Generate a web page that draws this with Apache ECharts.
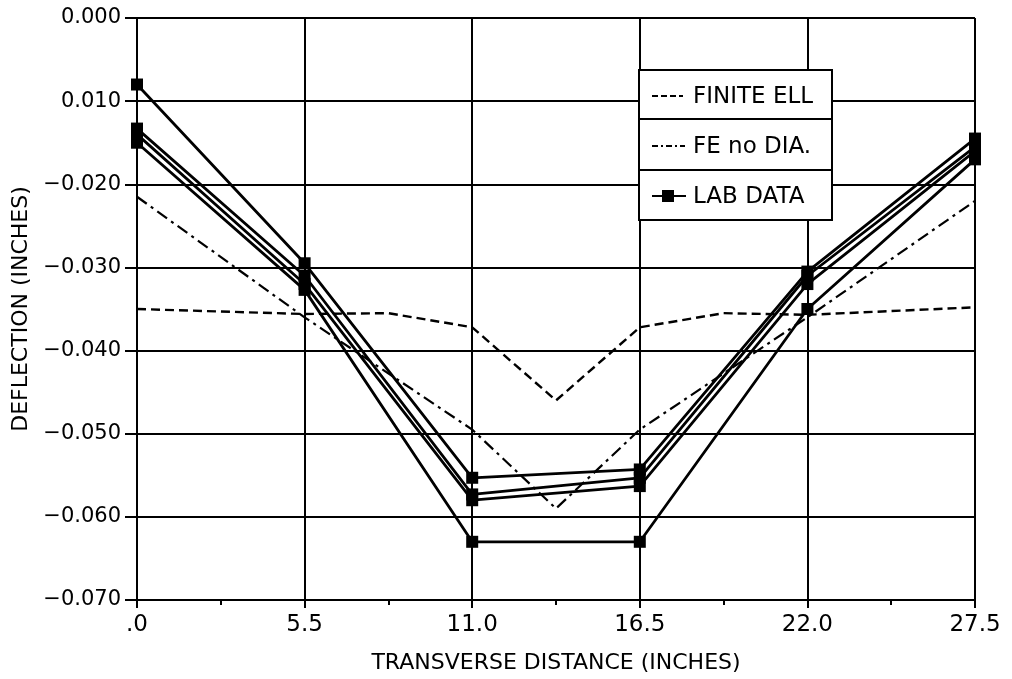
<!DOCTYPE html>
<html>
<head>
<meta charset="utf-8">
<script src="https://cdn.jsdelivr.net/npm/echarts@6/dist/echarts.min.js"></script>
<style>
html,body{margin:0;padding:0;background:#fff;}
#c{width:1012px;height:679px;}
</style>
</head>
<body>
<div id="c"></div>
<script>
// ---- data ----
var labX = [0, 5.5, 11, 16.5, 22, 27.5];
var lab1 = [-0.008, -0.0295, -0.0553, -0.0543, -0.0305, -0.0145];
var lab2 = [-0.0133, -0.031, -0.0573, -0.0553, -0.031, -0.0155];
var lab3 = [-0.014, -0.032, -0.058, -0.0563, -0.032, -0.016];
var lab4 = [-0.015, -0.0327, -0.063, -0.063, -0.035, -0.017];

var finiteX = [0, 5.5, 8.25, 11, 13.75, 16.5, 19.25, 22, 27.5];
var finiteY = [-0.035, -0.0356, -0.0355, -0.0372, -0.046, -0.0372, -0.0355, -0.0357, -0.0348];

var feX = [0, 5.5, 11, 13.75, 16.5, 22, 27.5];
var feY = [-0.0215, -0.036, -0.0495, -0.059, -0.0495, -0.036, -0.022];

var xTickLabels = ['.0', '5.5', '11.0', '16.5', '22.0', '27.5'];
var xTickValues = [0, 5.5, 11, 16.5, 22, 27.5];
var seriesNames = ['FINITE ELL', 'FE no DIA.', 'LAB DATA'];

function pairs(xs, ys) { return xs.map(function (x, i) { return [x, ys[i]]; }); }

var FONT = 'DejaVu Sans';
var chart = echarts.init(document.getElementById('c'), null, {renderer: 'canvas'});

function labSeries(ys) {
  return {
    name: seriesNames[2], type: 'line', data: pairs(labX, ys),
    symbol: 'rect', symbolSize: 12, showSymbol: true,
    lineStyle: {color: '#000', width: 2.8},
    itemStyle: {color: '#000'},
    z: 3, animation: false
  };
}

function legText(t, y) {
  return {type: 'text', z: 10, x: 693, y: y,
    style: {text: t, fill: '#000', fontFamily: FONT, fontSize: 23,
            align: 'left', verticalAlign: 'middle', textAlign: 'left', textVerticalAlign: 'middle'}};
}

chart.setOption({
  animation: false,
  backgroundColor: '#fff',
  grid: {left: 137, right: 37, top: 18, bottom: 78, containLabel: false},
  xAxis: {
    type: 'value', min: 0, max: 27.5, interval: 5.5,
    name: 'TRANSVERSE DISTANCE (INCHES)', nameLocation: 'middle', nameGap: 52,
    nameTextStyle: {fontFamily: FONT, fontSize: 22, color: '#000'},
    axisLine: {show: true, onZero: false, lineStyle: {color: '#000', width: 2}},
    axisTick: {show: true, length: 8, lineStyle: {color: '#000', width: 2}},
    minorTick: {show: true, splitNumber: 2, length: 5, lineStyle: {color: '#000', width: 2}},
    splitLine: {show: true, lineStyle: {color: '#000', width: 2}},
    axisLabel: {
      fontFamily: FONT, fontSize: 23, color: '#000', margin: 14,
      formatter: function (v) {
        var i = xTickValues.indexOf(Math.round(v * 100) / 100);
        return i >= 0 ? xTickLabels[i] : '';
      }
    }
  },
  yAxis: {
    type: 'value', min: -0.07, max: 0, interval: 0.01,
    name: 'DEFLECTION (INCHES)', nameLocation: 'middle', nameGap: 103, nameRotate: 90,
    nameTextStyle: {fontFamily: FONT, fontSize: 22, color: '#000'},
    axisLine: {show: true, onZero: false, lineStyle: {color: '#000', width: 2}},
    axisTick: {show: true, length: 12, lineStyle: {color: '#000', width: 2}},
    splitLine: {show: true, lineStyle: {color: '#000', width: 2}},
    axisLabel: {
      fontFamily: FONT, fontSize: 21, color: '#000', margin: 16,
      formatter: function (v) {
        var r = Math.round(v * 1000) / 1000;
        if (r === 0) return '0.000';
        if (r === -0.01) return '0.010';
        return '\u2212' + Math.abs(r).toFixed(3);
      }
    }
  },
  legend: {show: false},
  graphic: [
    {type: 'rect', z: 8, shape: {x: 639, y: 70, width: 193, height: 150},
     style: {fill: '#fff', stroke: '#000', lineWidth: 2}},
    {type: 'line', z: 9, shape: {x1: 639, y1: 119, x2: 832, y2: 119},
     style: {stroke: '#000', lineWidth: 2}},
    {type: 'line', z: 9, shape: {x1: 639, y1: 170, x2: 832, y2: 170},
     style: {stroke: '#000', lineWidth: 2}},
    {type: 'line', z: 10, shape: {x1: 652, y1: 96, x2: 683, y2: 96},
     style: {stroke: '#000', lineWidth: 2, lineDash: [6, 3]}},
    {type: 'line', z: 10, shape: {x1: 652, y1: 146, x2: 685, y2: 146},
     style: {stroke: '#000', lineWidth: 2, lineDash: [6, 3, 2, 3]}},
    {type: 'line', z: 10, shape: {x1: 652, y1: 196, x2: 686, y2: 196},
     style: {stroke: '#000', lineWidth: 2}},
    {type: 'rect', z: 10, shape: {x: 662, y: 190, width: 12, height: 12},
     style: {fill: '#000'}},
    legText(seriesNames[0], 97),
    legText(seriesNames[1], 147),
    legText(seriesNames[2], 197)
  ],
  series: [
    {
      name: seriesNames[0], type: 'line', data: pairs(finiteX, finiteY),
      symbol: 'none', showSymbol: false,
      lineStyle: {color: '#000', width: 2.4, type: [9, 5]},
      itemStyle: {color: '#000'}, z: 2
    },
    {
      name: seriesNames[1], type: 'line', data: pairs(feX, feY),
      symbol: 'none', showSymbol: false,
      lineStyle: {color: '#000', width: 2.2, type: [12, 5, 3, 5]},
      itemStyle: {color: '#000'}, z: 2
    },
    labSeries(lab1), labSeries(lab2), labSeries(lab3), labSeries(lab4)
  ]
});
</script>
</body>
</html>
